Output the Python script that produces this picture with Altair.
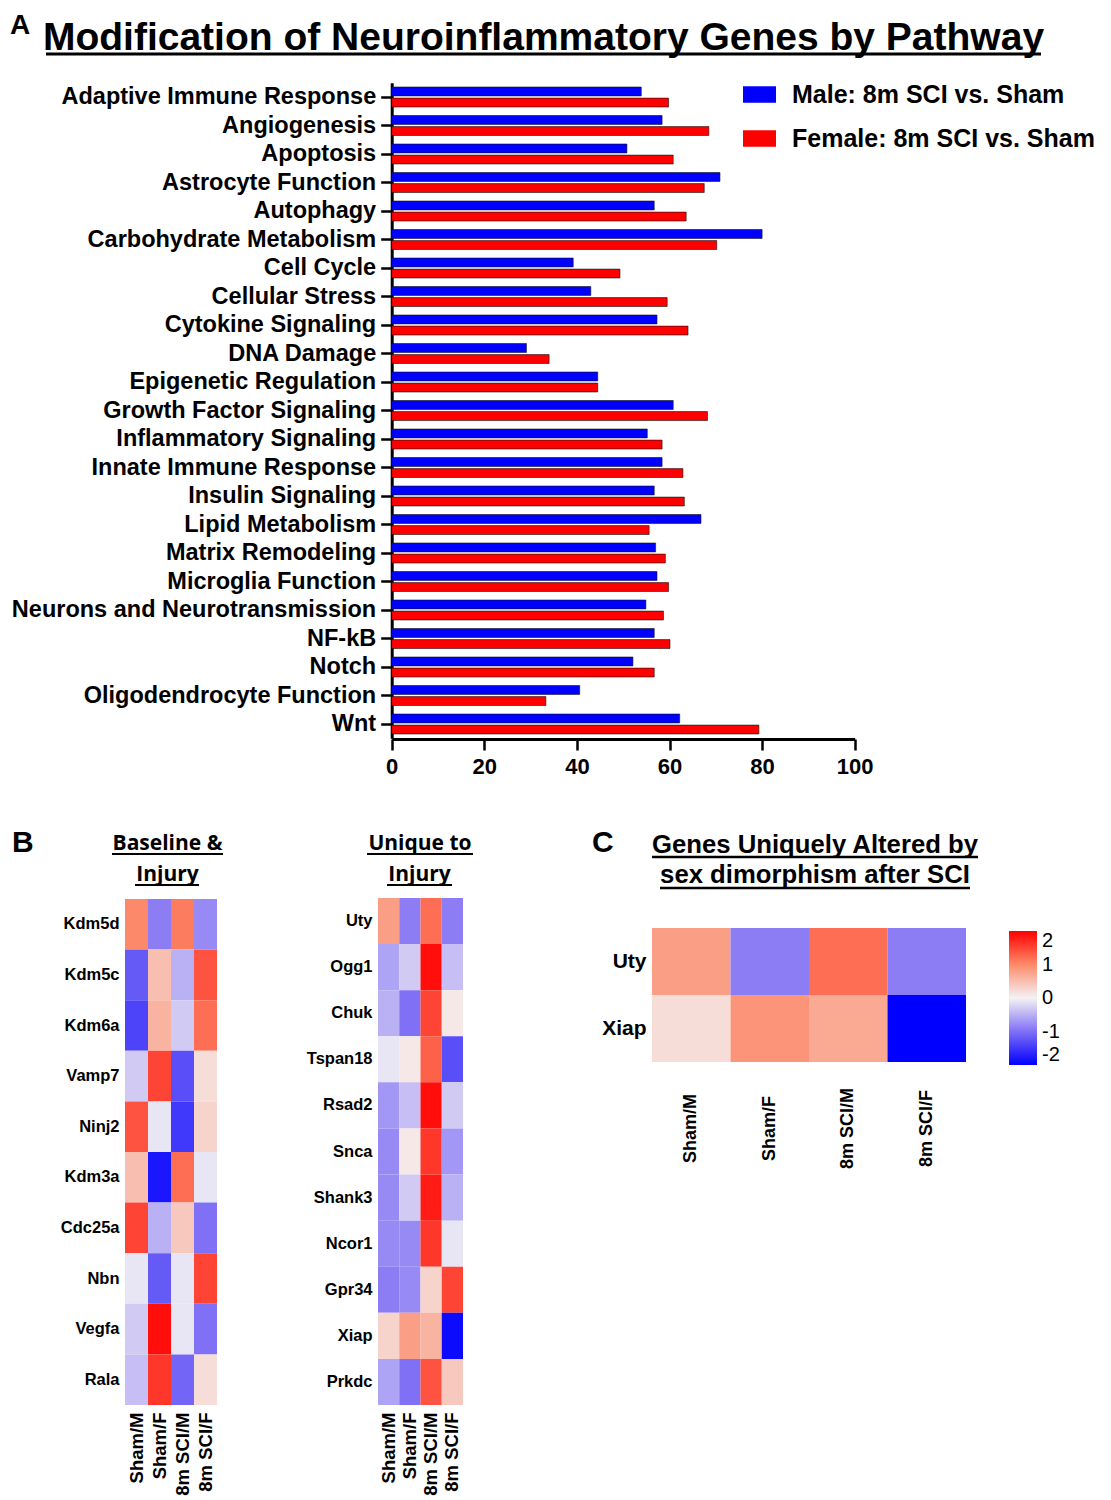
import altair as alt
import pandas as pd

# ---------------- data ----------------
pathways = ["Adaptive Immune Response", "Angiogenesis", "Apoptosis", "Astrocyte Function",
            "Autophagy", "Carbohydrate Metabolism", "Cell Cycle", "Cellular Stress",
            "Cytokine Signaling", "DNA Damage", "Epigenetic Regulation", "Growth Factor Signaling",
            "Inflammatory Signaling", "Innate Immune Response", "Insulin Signaling",
            "Lipid Metabolism", "Matrix Remodeling", "Microglia Function",
            "Neurons and Neurotransmission", "NF-kB", "Notch", "Oligodendrocyte Function", "Wnt"]
male = [53.9, 58.4, 50.8, 70.9, 56.7, 80.0, 39.2, 43.0, 57.3, 29.1, 44.5, 60.8,
        55.2, 58.4, 56.7, 66.8, 57.0, 57.3, 54.9, 56.7, 52.1, 40.6, 62.2]
female = [59.8, 68.5, 60.8, 67.5, 63.6, 70.2, 49.3, 59.5, 64.0, 34.0, 44.5, 68.2,
          58.4, 62.9, 63.2, 55.6, 59.1, 59.8, 58.7, 60.1, 56.7, 33.3, 79.3]
series = ["Male: 8m SCI vs. Sham", "Female: 8m SCI vs. Sham"]
x_ticks = [0, 20, 40, 60, 80, 100]

conditions = ["Sham/M", "Sham/F", "8m SCI/M", "8m SCI/F"]
b1_genes = ["Kdm5d", "Kdm5c", "Kdm6a", "Vamp7", "Ninj2", "Kdm3a", "Cdc25a", "Nbn", "Vegfa", "Rala"]
b1_values = [
    [1.0, -0.9, 1.1, -0.8],
    [-1.2, 0.5, -0.5, 1.4],
    [-1.4, 0.6, -0.3, 1.2],
    [-0.3, 1.5, -1.3, 0.2],
    [1.4, -0.1, -1.5, 0.3],
    [0.5, -1.8, 1.2, -0.1],
    [1.5, -0.5, 0.4, -1.0],
    [-0.1, -1.2, -0.1, 1.5],
    [-0.3, 1.9, -0.1, -1.0],
    [-0.4, 1.6, -1.1, 0.2],
]
b2_genes = ["Uty", "Ogg1", "Chuk", "Tspan18", "Rsad2", "Snca", "Shank3", "Ncor1", "Gpr34", "Xiap", "Prkdc"]
b2_values = [
    [0.8, -0.9, 1.2, -0.9],
    [-0.6, -0.3, 1.9, -0.4],
    [-0.5, -1.0, 1.5, 0.1],
    [-0.1, 0.1, 1.3, -1.3],
    [-0.7, -0.4, 1.9, -0.3],
    [-0.8, 0.1, 1.6, -0.7],
    [-0.8, -0.3, 1.8, -0.5],
    [-0.8, -0.8, 1.6, -0.1],
    [-0.9, -0.8, 0.3, 1.5],
    [0.3, 0.8, 0.6, -1.9],
    [-0.6, -1.0, 1.4, 0.4],
]
c_genes = ["Uty", "Xiap"]
c_values = [
    [0.8, -0.9, 1.2, -0.9],
    [0.2, 0.9, 0.7, -2.0],
]
legend_ticks = [-2, -1, 0, 1, 2]
heat_colors = ["#0000ff", "#8070f5", "#f4f2f4", "#fc8a6a", "#ff0000"]

# ---------------- helpers ----------------
W, H = 1095, 1485
ARIAL = "Liberation Sans"
OPEN = "Open Sans"

bar_df = pd.DataFrame(
    [{"pathway": p, "series": series[0], "value": m} for p, m in zip(pathways, male)] +
    [{"pathway": p, "series": series[1], "value": f} for p, f in zip(pathways, female)]
)


def heat_df(genes, values):
    return pd.DataFrame([{"gene": g, "condition": c, "value": v}
                         for g, row in zip(genes, values) for c, v in zip(conditions, row)])


heat_scale = dict(domain=legend_ticks, range=heat_colors, interpolate="rgb")
one = pd.DataFrame({"k": [0]})


def text(t, x, y, size, font=ARIAL, weight="bold", align="left", baseline="alphabetic"):
    return alt.Chart(one).mark_text(text=t, fontSize=size, font=font, fontWeight=weight,
                                    align=align, baseline=baseline, color="black").encode(
        x=alt.value(x), y=alt.value(y))


def underline(x1, x2, y, w=2.5):
    return alt.Chart(one).mark_rule(color="black", strokeWidth=w).encode(
        x=alt.value(x1), x2=alt.value(x2), y=alt.value(y))


# ---------------- panel A ----------------
bars = alt.Chart(bar_df).mark_bar(stroke="#111111", strokeWidth=0.6).encode(
    x=alt.X("value:Q",
            scale=alt.Scale(domain=[0, 100], range=[383.7, 846.7], nice=False),
            axis=alt.Axis(orient="bottom", offset=731 - H, values=x_ticks, grid=False,
                          tickSize=11, tickWidth=2.5, tickColor="black",
                          domainWidth=3, domainColor="black", labelFlush=False,
                          labelFont=ARIAL, labelFontSize=22, labelFontWeight="bold",
                          labelColor="black", labelPadding=6, title=None)),
    y=alt.Y("pathway:N",
            scale=alt.Scale(domain=pathways, range=[74.75, 730.25], paddingInner=0.3, paddingOuter=0.15),
            axis=alt.Axis(orient="left", offset=-383.7, tickSize=11, tickWidth=2.5, tickColor="black",
                          domainWidth=3, domainColor="black", labelFont=ARIAL, labelFontSize=23.5,
                          labelFontWeight="bold", labelColor="black", labelPadding=5,
                          labelLimit=1000, title=None)),
    yOffset=alt.YOffset("series:N", scale=alt.Scale(domain=series, paddingInner=0.2, paddingOuter=0)),
    color=alt.Color("series:N",
                    scale=alt.Scale(domain=series, range=["#0000ff", "#ff0000"]),
                    legend=alt.Legend(orient="none", legendX=735, legendY=70, title=None,
                                      symbolType="M-1,-0.5H1V0.5H-1Z", symbolSize=1089,
                                      symbolOpacity=1, symbolStrokeWidth=0,
                                      labelFont=ARIAL, labelFontSize=25, labelFontWeight="bold",
                                      labelColor="black", labelOffset=16, rowPadding=14,
                                      labelLimit=1000, padding=0)),
)

# ---------------- panel B / C ----------------
def heatmap(df, genes, xr, yr, rowsize, colsize, colpad, legend):
    return alt.Chart(df).mark_rect().encode(
        x=alt.X("condition:N",
                scale=alt.Scale(domain=conditions, range=xr, paddingInner=0, paddingOuter=0),
                axis=alt.Axis(orient="bottom", offset=yr[1] - H, labelAngle=270, ticks=False, tickSize=0,
                              domain=False, labelPadding=colpad, labelFont=ARIAL, labelFontSize=colsize,
                              labelFontWeight="bold", labelColor="black", labelLimit=1000, title=None,
                              **({"labelAlign": "center", "labelBaseline": "middle"} if legend else {}))),
        y=alt.Y("gene:N",
                scale=alt.Scale(domain=genes, range=yr, paddingInner=0, paddingOuter=0),
                axis=alt.Axis(orient="left", offset=-xr[0], ticks=False, tickSize=0, domain=False,
                              labelPadding=6, labelFont=ARIAL, labelFontSize=rowsize,
                              labelFontWeight="bold", labelColor="black", labelLimit=1000, title=None)),
        color=alt.Color("value:Q", scale=alt.Scale(**heat_scale),
                        legend=(alt.Legend(orient="none", legendX=1001, legendY=923, direction="vertical",
                                           gradientLength=134, gradientThickness=28, values=legend_ticks,
                                           labelExpr="'' + datum.value", labelOverlap=False,
                                           labelFont=ARIAL, labelFontSize=20, labelColor="black",
                                           labelOffset=5, title=None, padding=0, gradientStrokeWidth=0)
                                if legend else None)),
    )


b1 = heatmap(heat_df(b1_genes, b1_values), b1_genes, [117, 209], [891, 1397], 16.5, 18.5, 7, False)
b2 = heatmap(heat_df(b2_genes, b2_values), b2_genes, [370, 455], [890, 1397], 16.5, 18.5, 7, False)
c = heatmap(heat_df(c_genes, c_values), c_genes, [644, 958], [920, 1054], 21, 18, 66, True)

# ---------------- annotations ----------------
ann = [
    text("A", 2, 26, 28),
    text("Modification of Neuroinflammatory Genes by Pathway", 535.5, 42, 39, align="center"),
    underline(38, 1033, 46, 3),
    text("B", 4, 844, 30),
    text("Baseline &", 159.5, 842, 21, font=OPEN, align="center"),
    underline(104, 215, 846, 2),
    text("Injury", 159.5, 873, 21, font=OPEN, align="center"),
    underline(127, 191, 877, 2),
    text("Unique to", 412, 842, 21, font=OPEN, align="center"),
    underline(359, 465, 846, 2),
    text("Injury", 411.5, 873, 21, font=OPEN, align="center"),
    underline(379, 444, 877, 2),
    text("C", 584, 844, 30),
    text("Genes Uniquely Altered by", 807, 845, 25.7, align="center"),
    underline(644, 970, 849, 2.5),
    text("sex dimorphism after SCI", 807, 875, 25.7, align="center"),
    underline(652, 962, 880, 2.5),
]

chart = alt.layer(bars, b1, b2, c, *ann).resolve_scale(
    x="independent", y="independent", color="independent"
).resolve_axis(x="independent", y="independent").resolve_legend(color="independent").properties(
    width=W, height=H, padding=0
).configure_view(strokeWidth=0)

chart.save("out.html", embed_options={"renderer": "svg", "actions": False})
